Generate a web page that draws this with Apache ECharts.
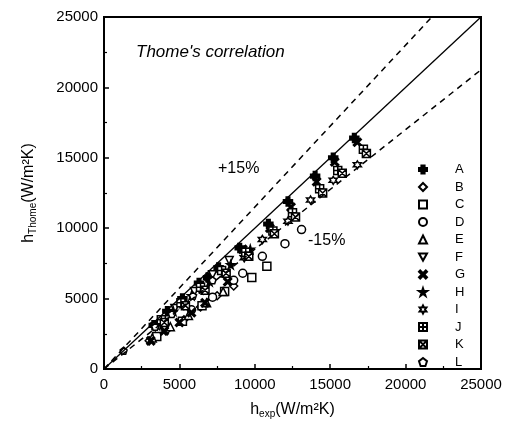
<!DOCTYPE html>
<html>
<head>
	<meta charset="utf-8">
	<title>Thome's correlation</title>
	<script src="https://cdn.jsdelivr.net/npm/echarts@6/dist/echarts.min.js"></script>
	<style>
		html, body { margin: 0; padding: 0; background: #fff; }
		#main { width: 511px; height: 424px; }
	</style>
</head>
<body>
	<div id="main"></div>
	<script>
		// 数据: h_exp / h_Thome (W/m2K)
		var names = ['A', 'B', 'C', 'D', 'E', 'F', 'G', 'H', 'I', 'J', 'K', 'L'];

		var aX = [3300, 4200, 5200, 6300, 6900, 7600, 9000, 10900, 12200, 14000, 15200, 16600];
		var aY = [3100, 4100, 5000, 6100, 6500, 7200, 8600, 10300, 11900, 13700, 15000, 16400];
		var bX = [3000, 4100, 5300, 6400, 7500, 8600];
		var bY = [2000, 2700, 3500, 4400, 5200, 5900];
		var cX = [3500, 5200, 6500, 8000, 9800, 10800];
		var cY = [2300, 3400, 4500, 5500, 6500, 7300];
		var dX = [4000, 5800, 7200, 8600, 9200, 10500, 12000, 13100];
		var dY = [3000, 4200, 5100, 6300, 6800, 8000, 8900, 9900];
		var eX = [3200, 4400, 5600, 6800, 7900];
		var eY = [2200, 3000, 3800, 4700, 5500];
		var fX = [3400, 4700, 6000, 7200, 8300];
		var fY = [3000, 4300, 5500, 6700, 7700];
		var gX = [3100, 4000, 5000, 5800, 6700, 8200, 9200, 11000, 12400, 14100, 15300, 16800];
		var gY = [2000, 2700, 3300, 4000, 4700, 6200, 8500, 10000, 11500, 13300, 14700, 16100];
		var hX = [3500, 4600, 5800, 7000, 8400, 9700];
		var hY = [3100, 4100, 5200, 6200, 7400, 8500];
		var iX = [3900, 5300, 6600, 8000, 9300, 10500, 12200, 13700, 15200, 16800];
		var iY = [3300, 4500, 5600, 6700, 7900, 9200, 10500, 12000, 13400, 14500];
		var jX = [3800, 5100, 6400, 7800, 9400, 11200, 12500, 14300, 15500, 17200];
		var jY = [3500, 4700, 5800, 7000, 8300, 9800, 11100, 12800, 14100, 15600];
		var kX = [4000, 5400, 6700, 8100, 9600, 11300, 12700, 14500, 15800, 17400];
		var kY = [3300, 4500, 5600, 6800, 8000, 9600, 10800, 12500, 13900, 15300];
		var lX = [1300, 3400, 4500, 5900, 7200];
		var lY = [1300, 3000, 3900, 5200, 6300];

		// 参考线
		var lineX = [0, 25000];
		var lineY = [0, 25000];
		var upX = [0, 21739];
		var upY = [0, 25000];
		var lowX = [0, 25000];
		var lowY = [0, 21250];

		function pts(xs, ys) {
			return xs.map(function (x, i) { return [x, ys[i]]; });
		}

		var symPlus = 'path://M3,0H7V3H10V7H7V10H3V7H0V3H3Z';
		var symX = 'path://M1.5,0L5,3.5L8.5,0L10,1.5L6.5,5L10,8.5L8.5,10L5,6.5L1.5,10L0,8.5L3.5,5L0,1.5Z';
		var symStar = 'path://M5,0L6.2,3.6L10,3.6L6.9,5.8L8.1,9.5L5,7.2L1.9,9.5L3.1,5.8L0,3.6L3.8,3.6Z';
		var symFlower = 'path://M5,0L6.3,2.5L9.3,2.5L7.6,5L9.3,7.5L6.3,7.5L5,10L3.7,7.5L0.7,7.5L2.4,5L0.7,2.5L3.7,2.5Z';
		var symTriDown = 'path://M0,0L10,0L5,9Z';
		var symGrid = 'path://M0,0H10V10H0Z M5,0V10 M0,5H10';
		var symDiag = 'path://M0,0H10V10H0Z M0,0L10,10 M10,0L0,10';
		var symPent = 'path://M5,0L10,4L8,10L2,10L0,4Z';

		var marks = [
			{ sym: symPlus, filled: true, size: 9, x: aX, y: aY },
			{ sym: 'diamond', filled: false, size: 8, x: bX, y: bY },
			{ sym: 'rect', filled: false, size: 8, x: cX, y: cY },
			{ sym: 'circle', filled: false, size: 8, x: dX, y: dY },
			{ sym: 'triangle', filled: false, size: 8, x: eX, y: eY },
			{ sym: symTriDown, filled: false, size: 8, x: fX, y: fY },
			{ sym: symX, filled: true, size: 8, x: gX, y: gY },
			{ sym: symStar, filled: true, size: 8, x: hX, y: hY },
			{ sym: symFlower, filled: false, size: 8, x: iX, y: iY },
			{ sym: symGrid, filled: false, size: 8, x: jX, y: jY },
			{ sym: symDiag, filled: false, size: 8, x: kX, y: kY },
			{ sym: symPent, filled: false, size: 7, x: lX, y: lY }
		];

		var series = [
			{ type: 'line', data: pts(lineX, lineY), symbol: 'none', silent: true,
				lineStyle: { color: '#000', width: 1.3 } },
			{ type: 'line', data: pts(upX, upY), symbol: 'none', silent: true,
				lineStyle: { color: '#000', width: 1.5, type: [6, 5] } },
			{ type: 'line', data: pts(lowX, lowY), symbol: 'none', silent: true,
				lineStyle: { color: '#000', width: 1.5, type: [6, 5] } }
		];
		marks.forEach(function (m, i) {
			series.push({
				name: names[i],
				type: 'scatter',
				data: pts(m.x, m.y),
				symbol: m.sym,
				symbolSize: m.size,
				itemStyle: {
					color: m.filled ? '#000' : '#fff',
					borderColor: '#000',
					borderWidth: 1.5,
					opacity: 1
				}
			});
		});

		var chart = echarts.init(document.getElementById('main'));
		chart.setOption({
			animation: false,
			backgroundColor: '#fff',
			grid: { left: 104, right: 30, top: 17, bottom: 49, show: true, borderColor: '#000', borderWidth: 2 },
			legend: {
				data: names,
				orient: 'vertical',
				left: 413,
				top: 158,
				itemWidth: 8,
				itemHeight: 8,
				itemGap: 4.5,
				selectedMode: false,
				textStyle: { fontFamily: 'Liberation Sans', fontSize: 13, lineHeight: 12, color: '#000', padding: [0, 0, 0, 23] }
			},
			xAxis: {
				type: 'value', min: 0, max: 25000, interval: 5000,
				name: '{h|h}{s|exp}{h|(W/m²K)}', nameLocation: 'middle', nameGap: 32,
				nameTextStyle: { rich: {
					h: { fontFamily: 'Liberation Sans', fontSize: 16, color: '#000' },
					s: { fontFamily: 'Liberation Sans', fontSize: 10, color: '#000', verticalAlign: 'bottom', padding: [8, 0, 0, 0] }
				} },
				axisLine: { lineStyle: { color: '#000', width: 2 } },
				axisTick: { inside: true, length: 5, lineStyle: { color: '#000', width: 1.5 } },
				minorTick: { show: true, splitNumber: 2, length: 3, lineStyle: { color: '#000', width: 1.2 } },
				splitLine: { show: false },
				axisLabel: { fontFamily: 'Liberation Sans', fontSize: 15, color: '#000', margin: 8,
					formatter: function (v) { return String(v); } }
			},
			yAxis: {
				type: 'value', min: 0, max: 25000, interval: 5000,
				name: '{h|h}{s|Thome}{h|(W/m²K)}', nameLocation: 'middle', nameGap: 66,
				nameTextStyle: { rich: {
					h: { fontFamily: 'Liberation Sans', fontSize: 16, color: '#000' },
					s: { fontFamily: 'Liberation Sans', fontSize: 10, color: '#000', verticalAlign: 'bottom', padding: [8, 0, 0, 0] }
				} },
				axisLine: { lineStyle: { color: '#000', width: 2 } },
				axisTick: { inside: true, length: 5, lineStyle: { color: '#000', width: 1.5 } },
				minorTick: { show: true, splitNumber: 2, length: 3, lineStyle: { color: '#000', width: 1.2 } },
				splitLine: { show: false },
				axisLabel: { fontFamily: 'Liberation Sans', fontSize: 15, color: '#000', margin: 6,
					formatter: function (v) { return String(v); } }
			},
			graphic: [
				{ type: 'text', left: 136, top: 44, style: { text: "Thome's correlation", font: 'italic 17px "Liberation Sans"', fill: '#000' } },
				{ type: 'text', left: 218, top: 161, style: { text: '+15%', font: '16px "Liberation Sans"', fill: '#000' } },
				{ type: 'text', left: 308, top: 233, style: { text: '-15%', font: '16px "Liberation Sans"', fill: '#000' } }
			],
			series: series
		});
	</script>
</body>
</html>
